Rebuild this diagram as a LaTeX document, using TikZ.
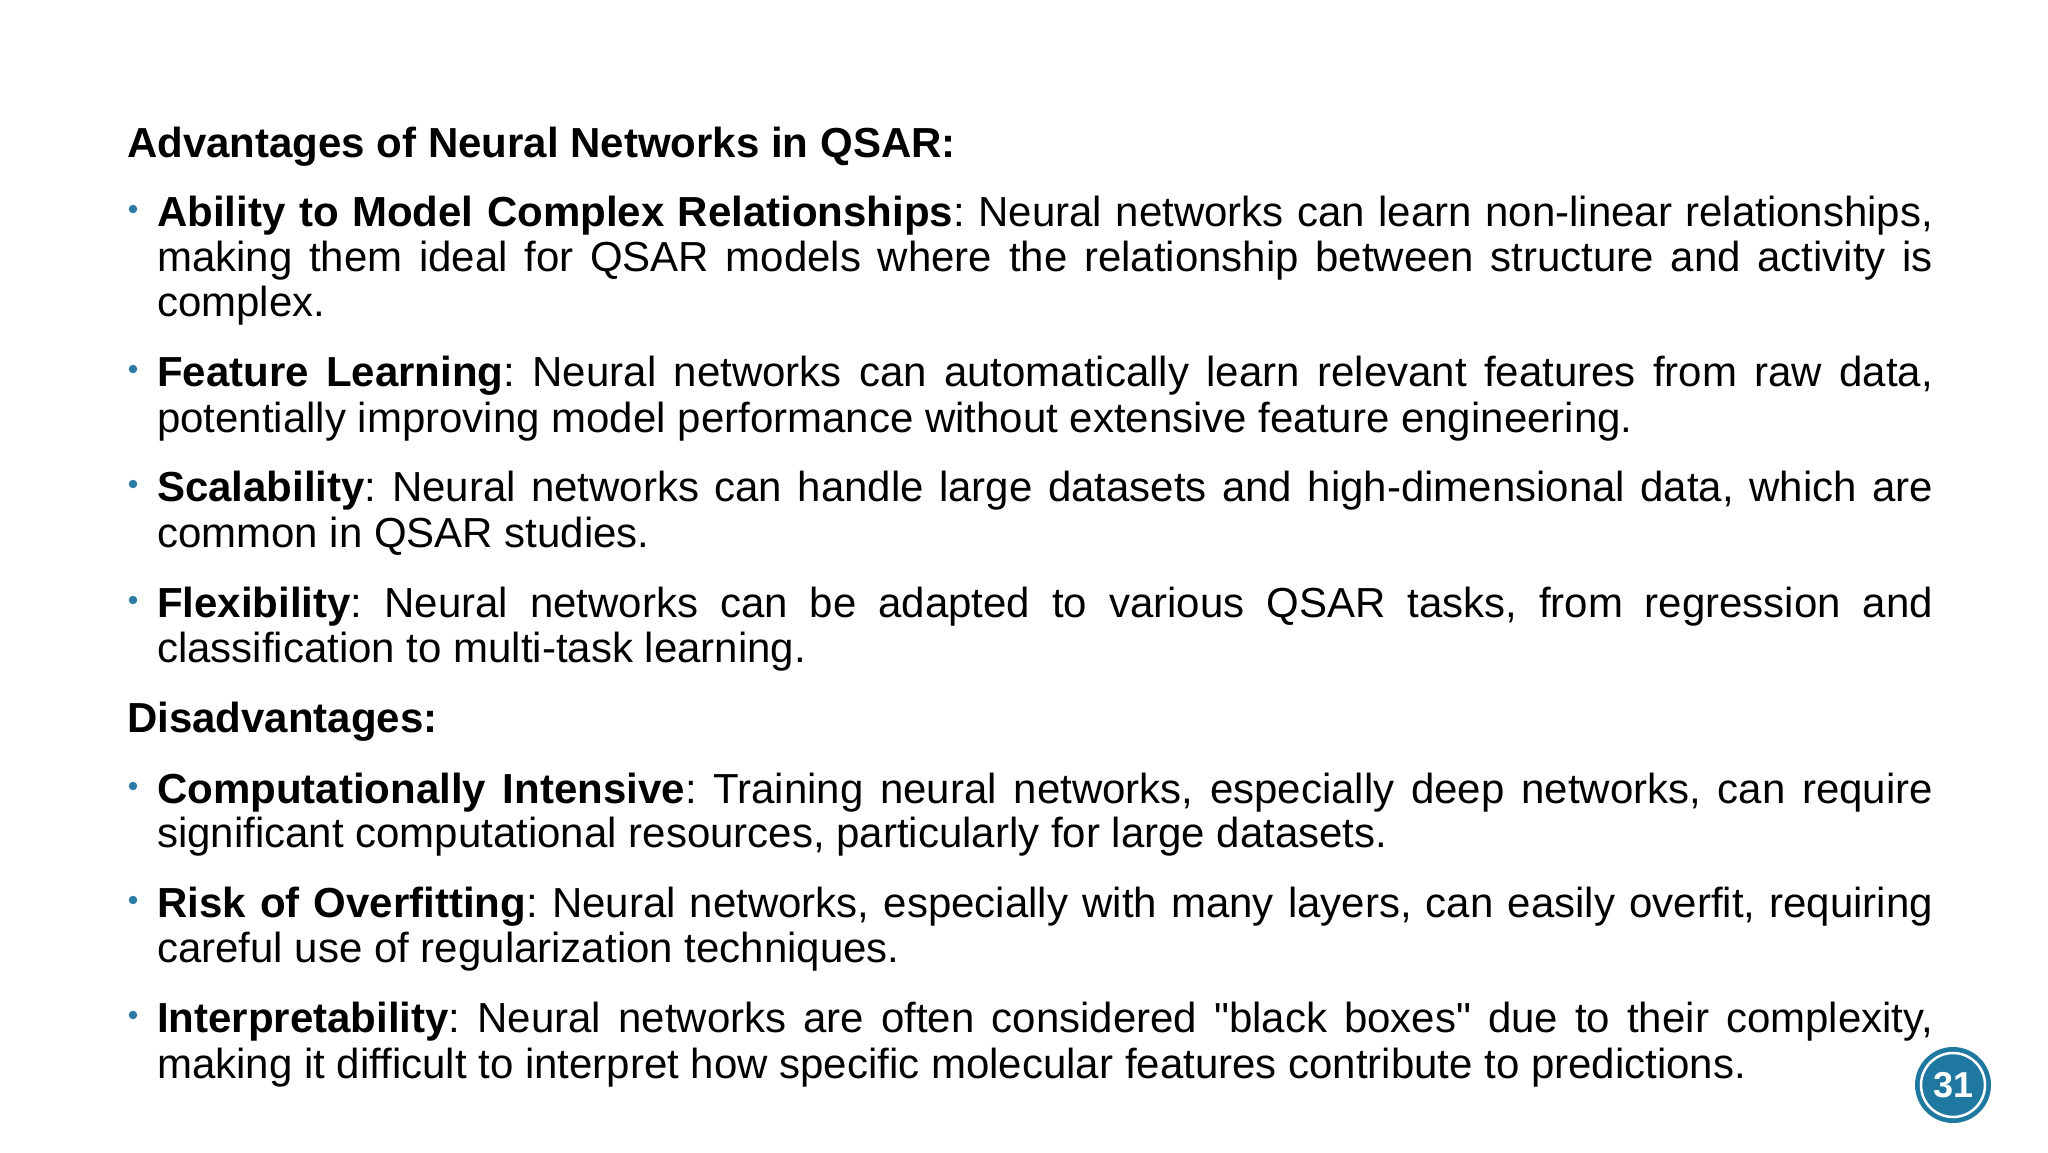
\documentclass[tikz,border=0pt]{standalone}
\usepackage{fontspec}
\setmainfont{Liberation Sans}[Ligatures=TeXOff]
\frenchspacing
\definecolor{bul}{HTML}{2B7BA6}
\definecolor{badge}{HTML}{1F78A0}
\begin{document}
\begin{tikzpicture}[x=1pt,y=-1pt,
  txt/.style={anchor=base west,inner sep=0pt,font=\fontsize{42}{50}\selectfont},
  dot/.style={circle,fill=bul,inner sep=0pt,minimum size=8.5pt}]
\useasboundingbox (0,0) rectangle (2048,1152);
\newcommand{\J}[1]{\makebox[1776pt][s]{#1}}
\node[txt] (h1) at (127,157) {\textbf{Advantages of Neural Networks in QSAR:}};
\node[dot] (d1) at (133,209) {};
\node[txt] (l1a) at (157,226) {\J{\textbf{Ability to Model Complex Relationships}: Neural networks can learn non-linear relationships,}};
\node[txt] (l1b) at (157,271) {\J{making them ideal for QSAR models where the relationship between structure and activity is}};
\node[txt] (l1c) at (157,316) {complex.};
\node[dot] (d2) at (133,369) {};
\node[txt] (l2a) at (157,386) {\J{\textbf{Feature Learning}: Neural networks can automatically learn relevant features from raw data,}};
\node[txt] (l2b) at (157,432) {potentially improving model performance without extensive feature engineering.};
\node[dot] (d3) at (133,484) {};
\node[txt] (l3a) at (157,501) {\J{\textbf{Scalability}: Neural networks can handle large datasets and high-dimensional data, which are}};
\node[txt] (l3b) at (157,547) {common in QSAR studies.};
\node[dot] (d4) at (133,600) {};
\node[txt] (l4a) at (157,617) {\J{\textbf{Flexibility}: Neural networks can be adapted to various QSAR tasks, from regression and}};
\node[txt] (l4b) at (157,662) {classification to multi-task learning.};
\node[txt] (h2) at (127,732) {\textbf{Disadvantages:}};
\node[dot] (d5) at (133,786) {};
\node[txt] (l5a) at (157,803) {\J{\textbf{Computationally Intensive}: Training neural networks, especially deep networks, can require}};
\node[txt] (l5b) at (157,847) {significant computational resources, particularly for large datasets.};
\node[dot] (d6) at (133,900) {};
\node[txt] (l6a) at (157,917) {\J{\textbf{Risk of Overfitting}: Neural networks, especially with many layers, can easily overfit, requiring}};
\node[txt] (l6b) at (157,962) {careful use of regularization techniques.};
\node[dot] (d7) at (133,1015) {};
\node[txt] (l7a) at (157,1032) {\J{\textbf{Interpretability}: Neural networks are often considered "black boxes" due to their complexity,}};
\node[txt] (l7b) at (157,1078) {making it difficult to interpret how specific molecular features contribute to predictions.};
\node[circle,fill=badge,minimum size=76pt,inner sep=0pt] (bg) at (1953,1085) {};
\node[circle,draw=white,line width=2.5pt,minimum size=64pt,inner sep=0pt,text=white,font=\fontsize{36}{36}\selectfont\bfseries] (num) at (bg.center) {31};
\end{tikzpicture}
\end{document}
